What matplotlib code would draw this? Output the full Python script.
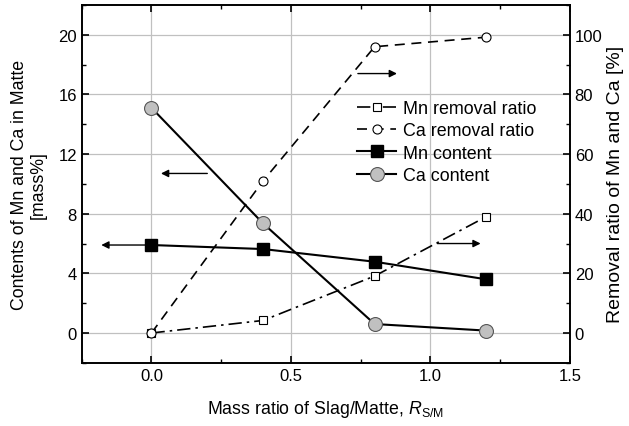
import matplotlib
matplotlib.use("Agg")
import matplotlib.pyplot as plt
from matplotlib.ticker import MultipleLocator

plt.rcParams.update({
    "font.family": "Liberation Sans",
    "font.size": 12,
    "mathtext.fontset": "custom",
    "mathtext.rm": "Liberation Sans",
    "mathtext.it": "Liberation Sans:italic",
})

# slag/matte mass ratio
ratio = [0.0, 0.4, 0.8, 1.2]
# contents in matte, mass%
mn_content = [5.9, 5.63, 4.78, 3.6]
ca_content = [15.1, 7.35, 0.6, 0.16]
# removal ratios, %
mn_removal = [0.0, 4.2, 19.1, 39.0]
ca_removal = [0.0, 51.0, 96.0, 99.2]

fig, ax = plt.subplots(figsize=(6.29, 4.27), dpi=100)
fig.subplots_adjust(left=0.130, right=0.906, top=0.986, bottom=0.148)
ax2 = ax.twinx()
# content axis drawn above the removal axis
ax.set_zorder(ax2.get_zorder() + 1)
ax.patch.set_visible(False)

ax.set_xlim(-0.25, 1.5)
ax.set_ylim(-2, 22)
ax2.set_ylim(-10, 110)
xticks = [0.0, 0.5, 1.0, 1.5]
ax.set_xticks(xticks)
ax.set_yticks([0, 4, 8, 12, 16, 20])
ax2.set_yticks([0, 20, 40, 60, 80, 100])
ax.xaxis.set_minor_locator(MultipleLocator(0.25))
ax.yaxis.set_minor_locator(MultipleLocator(2))
ax2.yaxis.set_minor_locator(MultipleLocator(10))
# grid lives on the lower axis so it stays under every curve
ax2.grid(True, which="major", axis="y", color="#c0c0c0", lw=0.9)
for xt in xticks[:-1]:
    ax2.axvline(xt, color="#c0c0c0", lw=0.9, zorder=0)
ax2.set_axisbelow(True)

for a in (ax, ax2):
    a.tick_params(which="major", direction="in", length=5, width=1.2)
    a.tick_params(which="minor", direction="in", length=3, width=1.0)
    for s in a.spines.values():
        s.set_linewidth(1.2)
ax.tick_params(which="both", top=True, right=False)

h_mnr, = ax2.plot(ratio, mn_removal, color="black", ls=(0, (8, 3, 1.5, 3)), lw=1.2,
                  marker="s", ms=6, mfc="white", mec="black", mew=0.8,
                  label="Mn removal ratio")
h_car, = ax2.plot(ratio, ca_removal, color="black", ls=(0, (6, 4)), lw=1.2,
                  marker="o", ms=6.5, mfc="white", mec="black", mew=0.8,
                  label="Ca removal ratio")
h_mnc, = ax.plot(ratio, mn_content, color="black", lw=1.5, marker="s", ms=9,
                 mfc="black", mec="black", label="Mn content")
h_cac, = ax.plot(ratio, ca_content, color="black", lw=1.5, marker="o", ms=10,
                 mfc="#c0c0c0", mec="#555555", mew=0.8, label="Ca content")

arrow = dict(arrowstyle="-|>", color="black", lw=1.0, mutation_scale=11)
ax.annotate("", xy=(-0.19, mn_content[0]), xytext=(0.0, mn_content[0]), arrowprops=arrow)
ax.annotate("", xy=(0.024, 10.7), xytext=(0.21, 10.7), arrowprops=arrow)
ax2.annotate("", xy=(0.89, 87), xytext=(0.73, 87), arrowprops=arrow)
ax2.annotate("", xy=(1.19, 30), xytext=(1.015, 30), arrowprops=arrow)

ax.set_xlabel("Mass ratio of Slag/Matte, $R_{\\mathrm{S/M}}$", fontsize=12.8, labelpad=11)
ax.set_ylabel("Contents of Mn and Ca in Matte\n[mass%]", fontsize=12.8, labelpad=8)
ax2.set_ylabel("Removal ratio of Mn and Ca [%]", fontsize=14, labelpad=3)

ax.legend(handles=[h_mnr, h_car, h_mnc, h_cac], loc="upper left",
          bbox_to_anchor=(0.564, 0.735), frameon=False, fontsize=12.9,
          handlelength=2.2, handletextpad=0.35, labelspacing=0.3,
          borderaxespad=0, borderpad=0)

fig.savefig("out.png", dpi=100)
